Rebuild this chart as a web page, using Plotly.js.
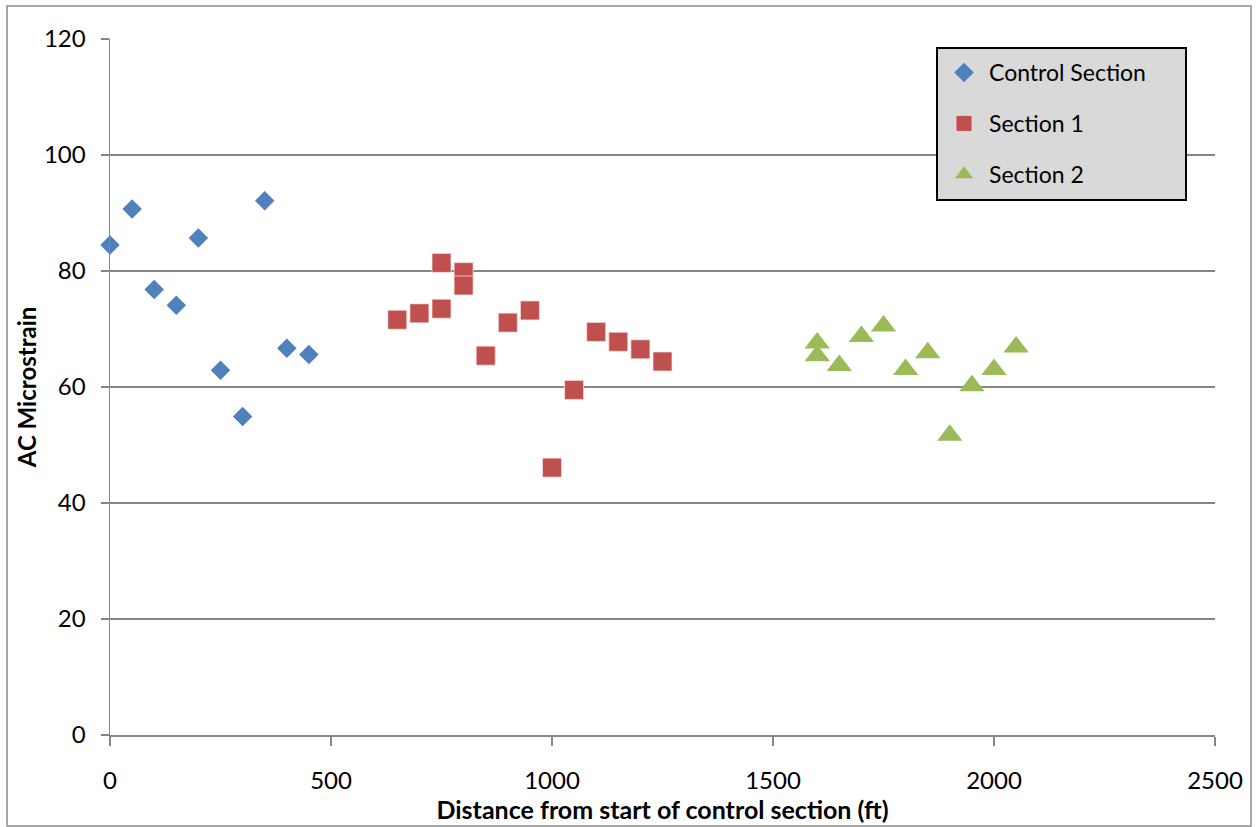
<!DOCTYPE html>
<html>
<head>
<meta charset="utf-8">
<script src="https://cdn.plot.ly/plotly-3.0.1.min.js"></script>
<style>
  html, body { margin: 0; padding: 0; background: #fff; }
  #chart { width: 1257px; height: 827px; }
</style>
</head>
<body>
<div id="chart"></div>
<script>
// Distance (ft) and AC microstrain readings per section
const controlDist = [0, 50, 100, 150, 200, 250, 300, 350, 400, 450];
const controlStrain = [84.5, 90.7, 76.8, 74.1, 85.7, 62.9, 54.9, 92.1, 66.7, 65.6];

const section1Dist = [650, 700, 750, 750, 800, 800, 850, 900, 950, 1000, 1050, 1100, 1150, 1200, 1250];
const section1Strain = [71.6, 72.7, 81.4, 73.5, 79.8, 77.5, 65.4, 71.1, 73.2, 46.1, 59.5, 69.5, 67.8, 66.5, 64.4];

const section2Dist = [1600, 1600, 1650, 1700, 1750, 1800, 1850, 1900, 1950, 2000, 2050];
const section2Strain = [67.6, 65.4, 63.7, 68.7, 70.5, 63.0, 65.9, 51.7, 60.2, 63.0, 66.9];

const xTicks = [0, 500, 1000, 1500, 2000, 2500];
const yTicks = [0, 20, 40, 60, 80, 100, 120];

const FONT = 'Lato, "Liberation Sans", sans-serif';
const AXIS_GREY = '#868686';

const traces = [
  {
    x: controlDist, y: controlStrain, name: 'Control Section',
    type: 'scatter', mode: 'markers', legendgroup: 'a', cliponaxis: false,
    marker: { symbol: 'diamond', size: 15, color: '#4F81BD' }
  },
  {
    x: section1Dist, y: section1Strain, name: 'Section 1',
    type: 'scatter', mode: 'markers', legendgroup: 'b', cliponaxis: false,
    marker: { symbol: 'square', size: 19, color: '#C0504D',
              line: { width: 1, color: 'rgba(255,230,230,0.7)' } }
  },
  {
    x: section2Dist, y: section2Strain, name: 'Section 2',
    type: 'scatter', mode: 'markers', legendgroup: 'c', cliponaxis: false,
    marker: { symbol: 'triangle-up', size: 22, color: '#9BBB59' }
  }
];

// Plot area spans x 110..1215, y 39..735 in page pixels
const L = 110, R = 1215, T = 39, B = 735;
const pw = R - L, ph = B - T;
const px = v => (v - L) / pw;
const py = v => (B - v) / ph;

const layout = {
  width: 1257, height: 827,
  margin: { l: L, r: 1257 - R, t: T, b: 827 - B, autoexpand: false },
  paper_bgcolor: '#ffffff',
  plot_bgcolor: '#ffffff',
  font: { family: FONT, color: '#000000', size: 24 },
  showlegend: true,
  legend: {
    x: px(939), y: py(51), xanchor: 'left', yanchor: 'top',
    bgcolor: 'rgba(0,0,0,0)', borderwidth: 0,
    font: { family: FONT, size: 23, color: '#000000' },
    traceorder: 'grouped', tracegroupgap: 18,
    itemwidth: 40
  },
  xaxis: {
    range: [0, 2500], tickvals: xTicks, ticktext: xTicks.map(String),
    showgrid: false, zeroline: false,
    showline: true, linecolor: AXIS_GREY, linewidth: 1.5,
    ticks: 'outside', ticklen: 9, tickcolor: AXIS_GREY, tickwidth: 1.5,
    ticklabelstandoff: 15,
    tickfont: { family: FONT, size: 24 },
    title: { text: '<b>Distance from start of control section (ft)</b>',
             font: { family: FONT, size: 25 }, standoff: 5 },
    fixedrange: true
  },
  yaxis: {
    range: [0, 120], tickvals: yTicks, ticktext: yTicks.map(String),
    showgrid: true, gridcolor: AXIS_GREY, gridwidth: 1.5,
    zeroline: false,
    showline: true, linecolor: AXIS_GREY, linewidth: 1.5,
    ticks: 'outside', ticklen: 8, tickcolor: AXIS_GREY, tickwidth: 1.5,
    ticklabelstandoff: 10,
    tickfont: { family: FONT, size: 24 },
    title: { text: '<b>AC Microstrain</b>',
             font: { family: FONT, size: 24 }, standoff: 0 },
    fixedrange: true
  },
  shapes: [
    // outer chart frame
    {
      type: 'rect', xref: 'paper', yref: 'paper', layer: 'below',
      x0: px(7), x1: px(1251), y0: py(826), y1: py(6),
      line: { color: '#8C8C8C', width: 1.5 }, fillcolor: 'rgba(0,0,0,0)'
    },
    // legend panel
    {
      type: 'rect', xref: 'paper', yref: 'paper', layer: 'above',
      x0: px(937), x1: px(1186), y0: py(200), y1: py(48),
      line: { color: '#000000', width: 2 }, fillcolor: '#D9D9D9'
    }
  ]
};

Plotly.newPlot('chart', traces, layout, { displayModeBar: false, staticPlot: true });
</script>
</body>
</html>
